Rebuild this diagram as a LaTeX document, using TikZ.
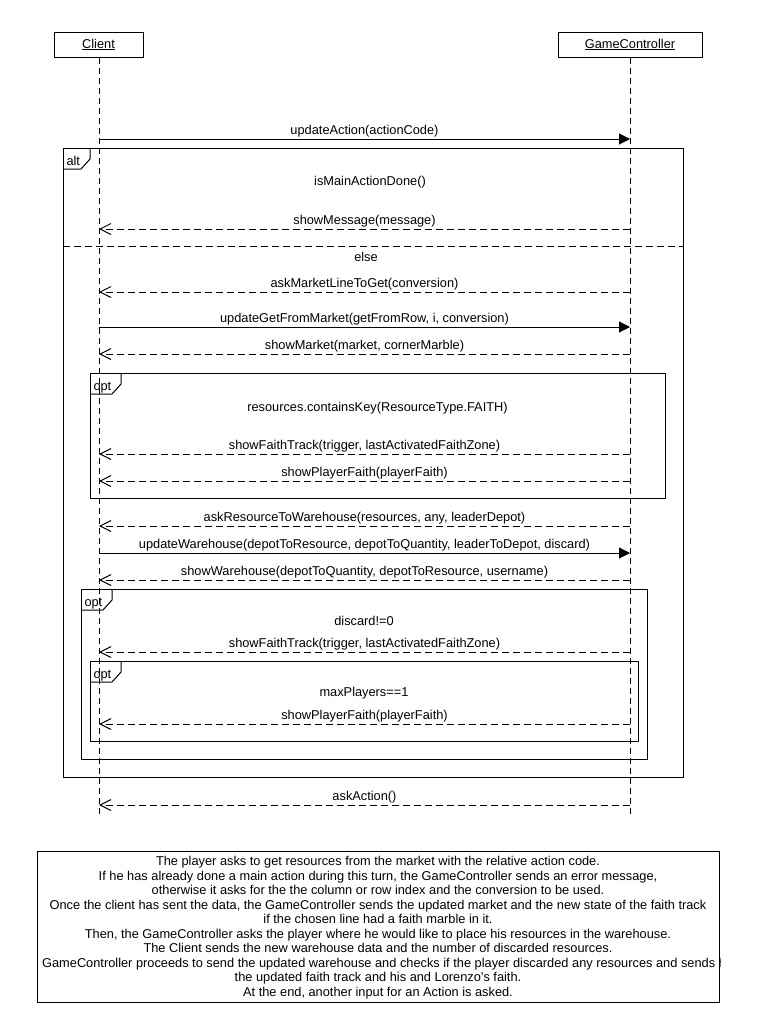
\documentclass[tikz,border=0pt]{standalone}
\usepackage{fontspec}
\setmainfont{Liberation Sans}
\usetikzlibrary{arrows.meta}

% message helpers: #1 name, #2 y position, #3 label
\newcommand\callmsg[3]{%
  \coordinate (#1-from) at (clientx |- 0,#2);
  \coordinate (#1-to) at (gcx |- 0,#2);
  \draw[call] (#1-from) -- node[msglabel] {#3} (#1-to);}
\newcommand\replymsg[3]{%
  \coordinate (#1-from) at (gcx |- 0,#2);
  \coordinate (#1-to) at (clientx |- 0,#2);
  \draw[reply] (#1-from) -- node[msglabel] {#3} (#1-to);}
% combined fragment: #1 name, #2 left, #3 top, #4 right, #5 bottom, #6 operator, #7 tag width
\newcommand\fragment[7]{%
  \node[frame, minimum width=#4-#2, minimum height=#5-#3, anchor=north west] (#1) at (#2,#3) {};
  \draw (#1.north west) ++(#7,0) -- ++(0,11) -- ++(-9,10) -- ++(-#7+9,0);
  \node[anchor=base west] (#1-op) at ([shift={(3,17)}]#1.north west) {#6};}

\begin{document}
\begin{tikzpicture}[x=1pt, y=-1pt, line width=1pt,
  every node/.style={font=\fontsize{12.8}{14.5}\selectfont, inner sep=0pt},
  actor/.style={draw, minimum height=25pt},
  lifeline/.style={dash pattern=on 6pt off 4pt},
  call/.style={-{Triangle[length=11pt,width=11pt]}},
  reply/.style={dash pattern=on 7pt off 4pt, -{Straight Barb[length=11pt,width=11pt]}},
  msglabel/.style={midway, anchor=base, yshift=5pt},
  frame/.style={draw, outer sep=0pt},
  guard/.style={anchor=base}]

\fill[white] (0,0) rectangle (757,1026);
\useasboundingbox (0,0) rectangle (757,1026);

% participants
\node[actor, minimum width=89pt] (client) at (98.5,44.5) {\underline{Client}};
\node[actor, minimum width=144pt] (gc) at (630,44.5) {\underline{GameController}};
\coordinate (clientx) at (99,0);
\coordinate (gcx) at (630,0);
\coordinate (client-end) at (99,815);
\coordinate (gc-end) at (630,815);
\draw[lifeline] (clientx |- client.south) -- (client-end);
\draw[lifeline] (gcx |- gc.south) -- (gc-end);

% first request
\callmsg{m1}{139}{updateAction(actionCode)}

% alt fragment
\fragment{alt}{63}{148}{683}{777}{alt}{27}
\node[guard] (g1) at (370,185) {isMainActionDone()};
\replymsg{m2}{229}{showMessage(message)}
\coordinate (sep-l) at (63,246);
\coordinate (sep-r) at (683,246);
\draw[dash pattern=on 7pt off 4pt] (sep-l) -- (sep-r);
\node[guard] (else) at (366,261) {else};

\replymsg{m3}{292}{askMarketLineToGet(conversion)}
\callmsg{m4}{327}{updateGetFromMarket(getFromRow, i, conversion)}
\replymsg{m5}{354}{showMarket(market, cornerMarble)}

% opt: faith marble taken
\fragment{opt1}{90}{373}{665}{498}{opt}{31}
\node[guard] (g2) at (377.5,411) {resources.containsKey(ResourceType.FAITH)};
\replymsg{m6}{454}{showFaithTrack(trigger, lastActivatedFaithZone)}
\replymsg{m7}{481}{showPlayerFaith(playerFaith)}

\replymsg{m8}{526}{askResourceToWarehouse(resources, any, leaderDepot)}
\callmsg{m9}{553}{updateWarehouse(depotToResource, depotToQuantity, leaderToDepot, discard)}
\replymsg{m10}{580}{showWarehouse(depotToQuantity, depotToResource, username)}

% opt: discarded resources
\fragment{opt2}{81}{589}{647}{759}{opt}{31}
\node[guard] (g3) at (364,625) {discard!=0};
\replymsg{m11}{652}{showFaithTrack(trigger, lastActivatedFaithZone)}

% opt: single player
\fragment{opt3}{90}{661}{638}{741}{opt}{31}
\node[guard] (g4) at (364,696) {maxPlayers==1};
\replymsg{m12}{724}{showPlayerFaith(playerFaith)}

% final request
\replymsg{m13}{805}{askAction()}

% note
\node[draw, minimum width=682pt, minimum height=151pt, anchor=north west] (note) at (37,851) {};
\begin{scope}
\clip (note.north west) rectangle (note.south east);
\newcommand\noteline[3]{\node[anchor=base] (#1) at (378,#2) {#3};}
\noteline{n1}{865.5}{The player asks to get resources from the market with the relative action code.}
\noteline{n2}{880}{If he has already done a main action during this turn, the GameController sends an error message,}
\noteline{n3}{894.5}{otherwise it asks for the the column or row index and the conversion to be used.}
\noteline{n4}{909}{Once the client has sent the data, the GameController sends the updated market and the new state of the faith track}
\noteline{n5}{923.5}{if the chosen line had a faith marble in it.}
\noteline{n6}{938}{Then, the GameController asks the player where he would like to place his resources in the warehouse.}
\noteline{n7}{952.5}{The Client sends the new warehouse data and the number of discarded resources.}
\noteline{n8}{967}{The GameController proceeds to send the updated warehouse and checks if the player discarded any resources and sends him}
\noteline{n9}{981.5}{the updated faith track and his and Lorenzo's faith.}
\noteline{n10}{996}{At the end, another input for an Action is asked.}
\end{scope}
\end{tikzpicture}
\end{document}
